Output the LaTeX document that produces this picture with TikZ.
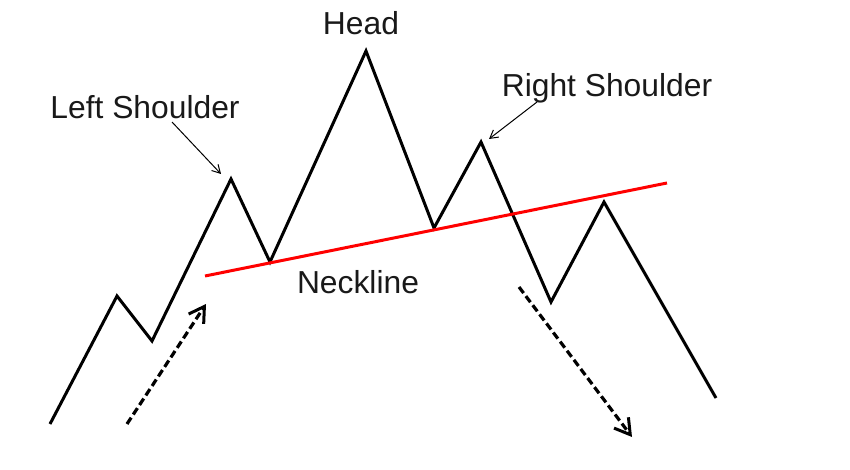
\documentclass[tikz,border=0pt]{standalone}
\usepackage{fontspec}
\setmainfont{Liberation Sans}
\usetikzlibrary{arrows.meta}
\begin{document}
\begin{tikzpicture}[x=0.5pt,y=-0.5pt,
  price/.style={line width=1.5pt,line join=miter},
  neck/.style={line width=1.5pt,draw={rgb,255:red,255;green,0;blue,0}},
  trend/.style={line width=1.6pt,dash pattern=on 3.8pt off 1.9pt,-{Straight Barb[length=7.5pt,width=9pt,line width=1.5pt]}},
  pointer/.style={line width=0.5pt,-{Straight Barb[length=4pt,width=4.5pt,line width=0.5pt]}},
  lbl/.style={anchor=base,inner sep=0pt,text={rgb,255:red,25;green,25;blue,25},font=\fontsize{15.9}{18}\selectfont}]
\useasboundingbox (0,0) rectangle (850,470);
% price path points
\coordinate (p0) at (50,424);
\coordinate (p1) at (117,296);
\coordinate (p2) at (152,341);
\coordinate (p3) at (231,179);
\coordinate (p4) at (270,262);
\coordinate (p5) at (366,51);
\coordinate (p6) at (434,228);
\coordinate (p7) at (481,142);
\coordinate (p8) at (551,302);
\coordinate (p9) at (604,202);
\coordinate (p10) at (716,398);
\draw[price] (p0) -- (p1) -- (p2) -- (p3) -- (p4) -- (p5) -- (p6) -- (p7) -- (p8) -- (p9) -- (p10);
% neckline
\coordinate (n0) at (205,276);
\coordinate (n1) at (667,183);
\draw[neck] (n0) -- (n1);
% trend arrows
\coordinate (a0) at (127,424);
\coordinate (a1) at (206,304);
\draw[trend] (a0) -- (a1);
\coordinate (b0) at (519,287);
\coordinate (b1) at (632,437);
\draw[trend] (b0) -- (b1);
% labels
\node[lbl] (head) at (361,35) {Head};
\node[lbl] (ls) at (145,119) {Left Shoulder};
\node[lbl] (rs) at (607,97) {Right Shoulder};
\node[lbl] (nl) at (358,293) {Neckline};
% pointers
\coordinate (ls0) at (172,122);
\coordinate (ls1) at (221,174);
\draw[pointer] (ls0) -- (ls1);
\coordinate (rs0) at (537,102);
\coordinate (rs1) at (489,139);
\draw[pointer] (rs0) -- (rs1);
\end{tikzpicture}
\end{document}
